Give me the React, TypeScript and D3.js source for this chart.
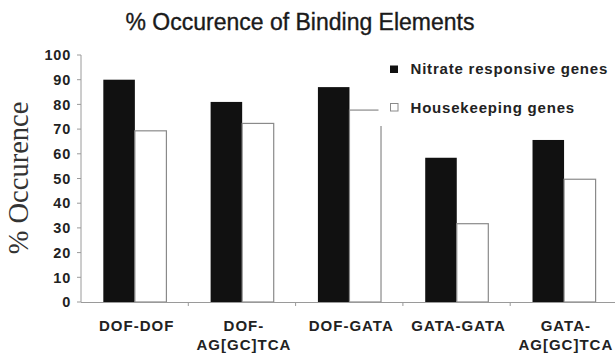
import React from "react";
import * as d3 from "d3";

const categories: string[][] = [
  ["DOF-DOF"],
  ["DOF-", "AG[GC]TCA"],
  ["DOF-GATA"],
  ["GATA-GATA"],
  ["GATA-", "AG[GC]TCA"],
];
const categoryKeys = ["DOF-DOF", "DOF-AG[GC]TCA", "DOF-GATA", "GATA-GATA", "GATA-AG[GC]TCA"];
const nitrateValues = [90, 81, 87, 58.4, 65.6];
const housekeepingValues = [69.3, 72.3, 77.7, 31.7, 49.7];
const yTicks = [0, 10, 20, 30, 40, 50, 60, 70, 80, 90, 100];
const seriesNames = ["Nitrate responsive genes", "Housekeeping genes"];

const W = 615;
const H = 354;
const SANS = "'Liberation Sans', Arial, sans-serif";
const SERIF = "'Liberation Serif', 'Times New Roman', serif";

export default function App() {
  const x = d3.scaleBand<string>().domain(categoryKeys).range([81, 617.5]).padding(0);
  const y = d3.scaleLinear().domain([0, 100]).range([302, 55]);
  const bw = x.bandwidth();
  const barW = bw * 0.294;
  const off = bw * 0.208;
  const axisColor = "#9a9a9a";

  return (
    <svg
      width={W}
      height={H}
      style={{ position: "absolute", left: 0, top: 0, background: "#fff" }}
    >
      <rect x={0} y={0} width={W} height={H} fill="#fff" />
      {/* title */}
      <text
        x={300}
        y={29.5}
        textAnchor="middle"
        fontFamily={SANS}
        fontSize={23}
        fill="#1a1a1a"
        stroke="#1a1a1a"
        strokeWidth={0.35}
      >
        % Occurence of Binding Elements
      </text>
      {/* y label */}
      <text
        transform={`translate(28,178) rotate(-90)`}
        textAnchor="middle"
        fontFamily={SERIF}
        fontSize={28.5}
        fill="#333"
      >
        % Occurence
      </text>
      {/* y axis */}
      <line x1={81} x2={81} y1={y(0)} y2={y(100)} stroke={axisColor} strokeWidth={1} />
      {yTicks.map((t) => (
        <g key={t}>
          <line x1={77} x2={81} y1={y(t)} y2={y(t)} stroke={axisColor} />
          <text
            x={71}
            y={y(t)}
            dy="0.36em"
            textAnchor="end"
            fontFamily={SANS}
            fontWeight="bold"
            fontSize={14.5}
            letterSpacing={0.8}
            fill="#222"
          >
            {t}
          </text>
        </g>
      ))}
      {/* bars */}
      {categoryKeys.map((c, i) => {
        const x0 = (x(c) as number) + off;
        return (
          <g key={c}>
            <rect
              x={x0}
              y={y(nitrateValues[i])}
              width={barW}
              height={y(0) - y(nitrateValues[i])}
              fill="#111"
            />
            <rect
              x={x0 + barW}
              y={y(housekeepingValues[i])}
              width={barW}
              height={y(0) - y(housekeepingValues[i])}
              fill="#fff"
              stroke="#8a8a8a"
              strokeWidth={1.2}
            />
          </g>
        );
      })}
      {/* x axis */}
      <line x1={81} x2={W} y1={y(0) + 0.5} y2={y(0) + 0.5} stroke={axisColor} strokeWidth={1.2} />
      {categoryKeys.map((c, i) =>
        i === 0 ? null : (
          <line
            key={c}
            x1={x(c) as number}
            x2={x(c) as number}
            y1={y(0)}
            y2={y(0) + 4}
            stroke={axisColor}
          />
        )
      )}
      {categories.map((lines, i) => {
        const cx = (x(categoryKeys[i]) as number) + bw / 2 + 2;
        return (
          <text
            key={i}
            x={cx}
            textAnchor="middle"
            fontFamily={SANS}
            fontWeight="bold"
            fontSize={15}
            letterSpacing={1}
            fill="#222"
          >
            {lines.map((l, j) => (
              <tspan key={j} x={cx} y={331 + j * 19}>
                {l}
              </tspan>
            ))}
          </text>
        );
      })}
      {/* legend */}
      <rect x={378.5} y={50} width={W - 378.5} height={76} fill="#fff" />
      <rect x={390} y={65.5} width={8} height={7.5} fill="#111" />
      <text x={410.5} y={74} fontFamily={SANS} fontWeight="bold" fontSize={15} letterSpacing={0.8} fill="#222">
        {seriesNames[0]}
      </text>
      <rect x={390.5} y={103.5} width={7.5} height={7.5} fill="#fff" stroke="#8a8a8a" strokeWidth={1} />
      <text x={410.5} y={112.5} fontFamily={SANS} fontWeight="bold" fontSize={15} letterSpacing={0.8} fill="#222">
        {seriesNames[1]}
      </text>
    </svg>
  );
}
